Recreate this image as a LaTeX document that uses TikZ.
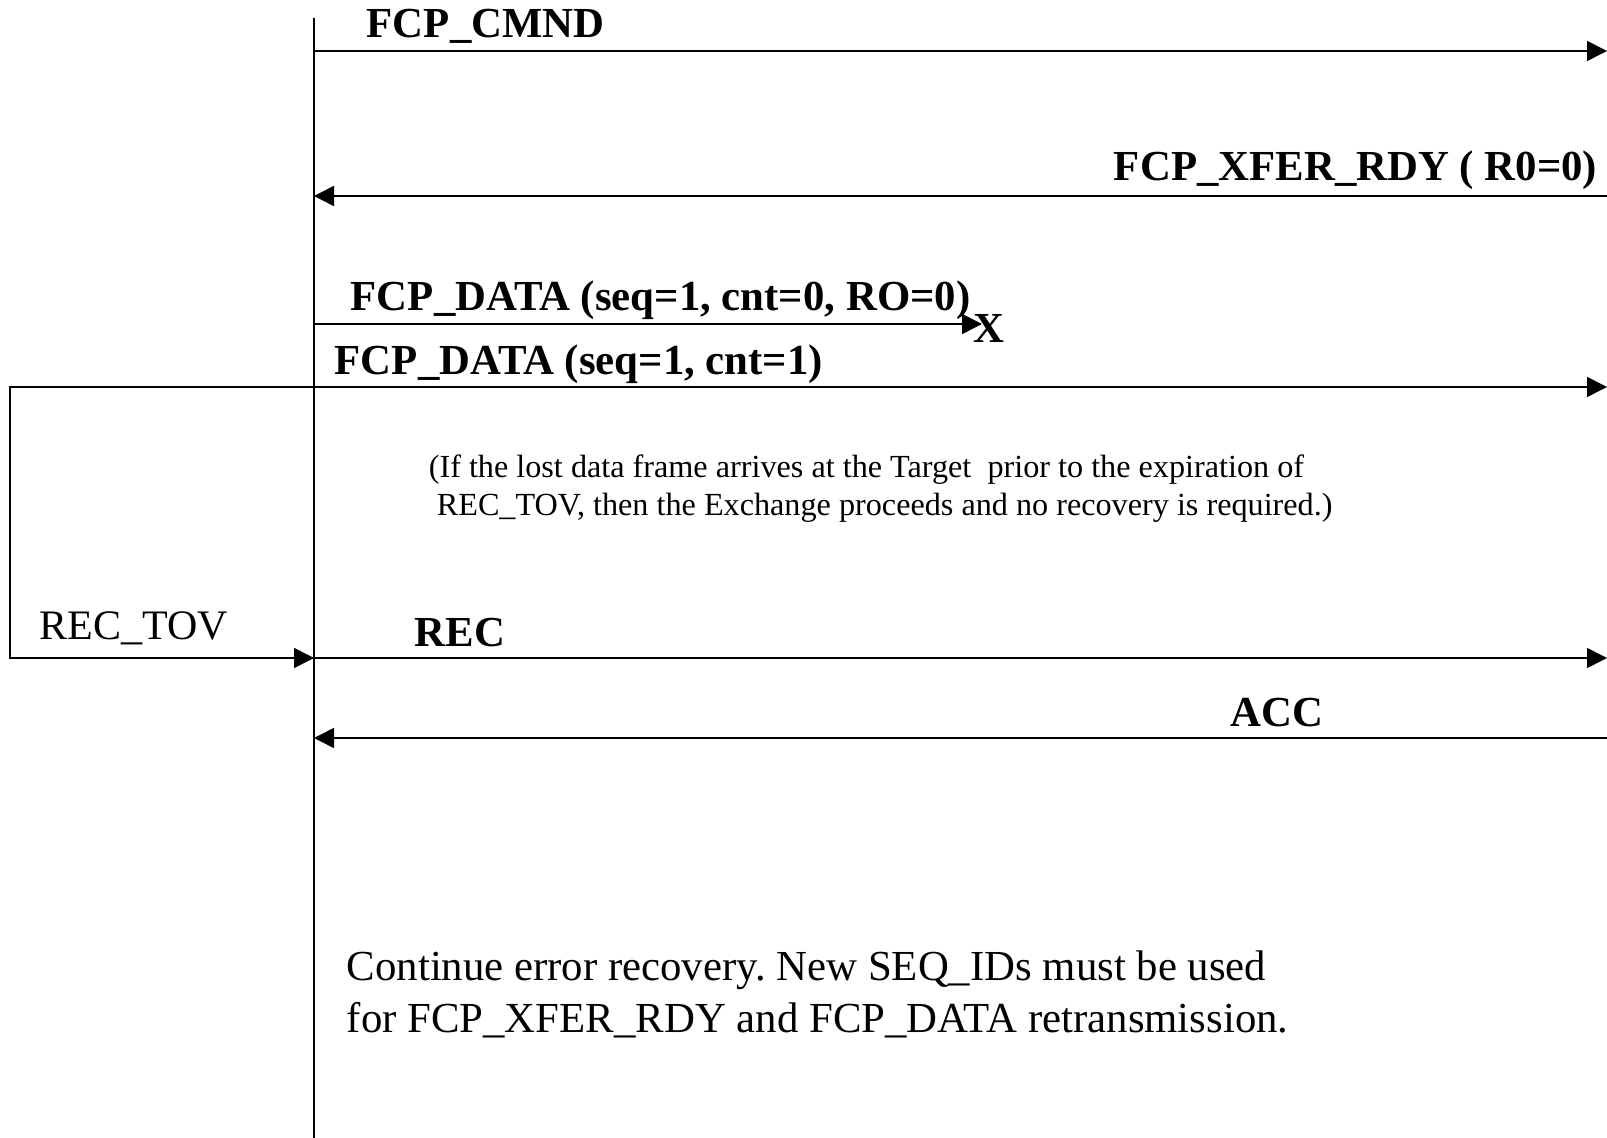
\documentclass[tikz,border=0pt]{standalone}
\usepackage{fontspec}
\setmainfont{Liberation Serif}
\usetikzlibrary{arrows.meta}
\frenchspacing

\begin{document}
\begin{tikzpicture}[x=0.5pt,y=-0.5pt,line width=0.8pt,
    msg/.style={-{Triangle[length=10pt,width=10pt]}},
    lbl/.style={font=\fontsize{21.4}{25}\selectfont\bfseries,inner sep=0pt,anchor=base west},
    txt/.style={font=\fontsize{21.4}{26}\selectfont,inner sep=0pt,anchor=base west,align=left}]
    \useasboundingbox (0,0) rectangle (1607,1138);

    % lifeline
    \coordinate (top) at (314,18);
    \coordinate (bottom) at (314,1138);
    \draw (top) -- (bottom);

    % frame ends
    \coordinate (cmnd-i) at (314,51);
    \coordinate (cmnd-t) at (1607,51);
    \coordinate (xfer-t) at (1607,196);
    \coordinate (xfer-i) at (314,196);
    \coordinate (lost-i) at (314,324);
    \coordinate (lost-x) at (982,324);
    \coordinate (data-i) at (314,387);
    \coordinate (data-t) at (1607,387);
    \coordinate (tov-a) at (10,387);
    \coordinate (tov-b) at (10,658);
    \coordinate (rec-i) at (314,658);
    \coordinate (rec-t) at (1607,658);
    \coordinate (acc-t) at (1607,738);
    \coordinate (acc-i) at (314,738);

    \path[msg] (cmnd-i) edge (cmnd-t)
               (xfer-t) edge (xfer-i)
               (lost-i) edge (lost-x)
               (data-i) edge (data-t)
               (rec-i) edge (rec-t)
               (acc-t) edge (acc-i);
    \draw[msg] (data-i) -- (tov-a) -- (tov-b) -- (rec-i);

    % labels
    \node[lbl] (cmnd) at (366,38) {FCP\_CMND};
    \node[lbl,anchor=base east] (xfer) at (1598,181) {FCP\_XFER\_RDY ( R0=0)};
    \node[lbl] (lost) at (350,311) {FCP\_DATA (seq=1, cnt=0, RO=0)};
    \node[lbl,anchor=center] (drop) at (989,328) {X};
    \node[lbl] (data) at (334,375) {FCP\_DATA (seq=1, cnt=1)};
    \node[lbl] (rec) at (414,647) {REC};
    \node[lbl] (acc) at (1230,726) {ACC};
    \node[txt,font=\fontsize{21}{26}\selectfont] (tov) at (39,640) {REC\_TOV};

    \node[txt,font=\fontsize{16.1}{19}\selectfont] (cond) at (428,516)
        {(If the lost data frame arrives at the Target\ \ prior to the expiration of\\
         \ REC\_TOV, then the Exchange proceeds and no recovery is required.)};
    \node[txt] (cont) at (346,1032)
        {Continue error recovery. New SEQ\_IDs must be used\\
         for FCP\_XFER\_RDY and FCP\_DATA retransmission.};
\end{tikzpicture}
\end{document}
